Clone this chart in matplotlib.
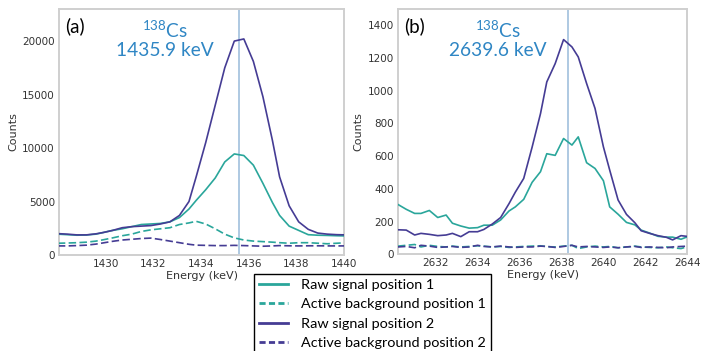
import matplotlib
matplotlib.use("Agg")
import matplotlib.pyplot as plt
from matplotlib.lines import Line2D

plt.rcParams['mathtext.fontset'] = 'custom'
plt.rcParams['mathtext.rm'] = 'Lato'
plt.rcParams['mathtext.it'] = 'Lato'

# ---------------- Panel (a) data ----------------
energy_a = [1428.0, 1428.4, 1428.8, 1429.2, 1429.6, 1429.9, 1430.3, 1430.7, 1431.1, 1431.5,
            1431.9, 1432.3, 1432.7, 1433.1, 1433.5, 1433.8, 1434.2, 1434.6, 1435.0, 1435.4,
            1435.8, 1436.2, 1436.6, 1437.0, 1437.3, 1437.7, 1438.1, 1438.5, 1438.9, 1439.3,
            1439.7, 1440.1]
raw1_a = [1950, 1900, 1850, 1870, 1950, 2100, 2300, 2450, 2650, 2850,
          2900, 2950, 3100, 3500, 4300, 5100, 6100, 7200, 8700, 9450,
          9300, 8400, 6700, 4900, 3700, 2700, 2300, 1900, 1850, 1830,
          1800, 1780]
bg1_a = [1100, 1120, 1150, 1200, 1300, 1420, 1600, 1800, 1950, 2200,
         2350, 2450, 2550, 2850, 3000, 3150, 2900, 2450, 1950, 1600,
         1400, 1300, 1250, 1200, 1150, 1100, 1150, 1150, 1100, 1050,
         1100, 1150]
raw2_a = [2000, 1950, 1880, 1880, 1980, 2100, 2300, 2550, 2650, 2700,
          2750, 2900, 3100, 3700, 5000, 7300, 10500, 14000, 17500, 20000,
          20200, 18100, 14800, 10700, 7300, 4600, 3100, 2400, 2050, 1950,
          1900, 1880]
bg2_a = [850, 850, 880, 920, 1020, 1130, 1280, 1400, 1470, 1540,
         1580, 1450, 1300, 1150, 1000, 920, 900, 880, 880, 900,
         880, 850, 820, 850, 880, 860, 850, 860, 860, 850,
         850, 850]

# ---------------- Panel (b) data ----------------
energy_b = [2630.2, 2630.6, 2631.0, 2631.3, 2631.7, 2632.1, 2632.5, 2632.8, 2633.2, 2633.6,
            2634.0, 2634.3, 2634.7, 2635.1, 2635.5, 2635.8, 2636.2, 2636.6, 2637.0, 2637.3,
            2637.7, 2638.1, 2638.5, 2638.8, 2639.2, 2639.6, 2640.0, 2640.3, 2640.7, 2641.1,
            2641.5, 2641.8, 2642.2, 2642.6, 2643.0, 2643.3, 2643.7, 2644.1]
raw1_b = [305, 275, 250, 250, 268, 225, 240, 190, 173, 160,
          163, 178, 178, 210, 265, 290, 336, 440, 505, 615,
          605, 708, 668, 718, 560, 525, 450, 290, 245, 195,
          180, 148, 130, 110, 105, 105, 92, 112]
bg1_b = [50, 55, 60, 45, 55, 48, 45, 50, 45, 48,
         52, 50, 45, 48, 42, 45, 48, 50, 52, 47,
         45, 50, 55, 35, 45, 50, 45, 48, 40, 45,
         50, 45, 42, 40, 45, 40, 35, 50]
raw2_b = [150, 148, 118, 128, 122, 114, 118, 128, 108, 138,
          138, 152, 185, 225, 310, 380, 464, 655, 860, 1054,
          1166, 1313, 1268, 1207, 1044, 892, 657, 515, 332, 244,
          193, 144, 128, 114, 104, 88, 114, 108]
bg2_b = [45, 48, 40, 55, 50, 42, 45, 48, 42, 45,
         55, 48, 45, 50, 45, 42, 45, 45, 50, 48,
         42, 48, 55, 45, 48, 45, 42, 45, 40, 45,
         48, 42, 45, 42, 40, 45, 48, 50]

peak_a = 1435.6
peak_b = 2638.3
xticks_a = [1430, 1432, 1434, 1436, 1438, 1440]
yticks_a = [0, 5000, 10000, 15000, 20000]
xticks_b = [2632, 2634, 2636, 2638, 2640, 2642, 2644]
yticks_b = [0, 200, 400, 600, 800, 1000, 1200, 1400]
labels = ["Raw signal position 1", "Active background position 1",
          "Raw signal position 2", "Active background position 2"]

TEAL = '#2aa69b'
PURPLE = '#453c94'
LINE_BLUE = '#a8c5df'
TEXT_BLUE = '#2f86c4'
SPINE = '#cfcfcf'

fig = plt.figure(figsize=(7.13, 3.51), dpi=100)
W, H = 713, 351
ax_a = fig.add_axes([59 / W, 1 - 255 / H, (344 - 59) / W, (255 - 9) / H])
ax_b = fig.add_axes([398.3 / W, 1 - 254.3 / H, (687.3 - 398.3) / W, (254.3 - 9) / H])


def draw(ax, e, r1, b1, r2, b2, peak, xlim, ylim, xt, yt, tag, energy_txt, txt_x):
    ax.axvline(peak, color=LINE_BLUE, lw=1.3, zorder=1)
    ax.plot(e, r1, color=TEAL, lw=1.2, zorder=3)
    ax.plot(e, b1, color=TEAL, lw=1.2, ls=(0, (4.5, 2)), zorder=3)
    ax.plot(e, r2, color=PURPLE, lw=1.2, zorder=3)
    ax.plot(e, b2, color=PURPLE, lw=1.2, ls=(0, (4.5, 2)), zorder=3)
    ax.set_xlim(*xlim)
    ax.set_ylim(*ylim)
    ax.set_xticks(xt)
    ax.set_yticks(yt)
    ax.tick_params(length=0, pad=3, labelsize=7.5, labelcolor='#333333')
    for s in ax.spines.values():
        s.set_color(SPINE)
        s.set_linewidth(1.4)
    ax.set_xlabel("Energy (keV)", fontsize=8, color='#333333', labelpad=1)
    ax.set_ylabel("Counts", fontsize=8, color='#333333', labelpad=3)
    ax.text(0.02, 0.965, tag, transform=ax.transAxes, fontsize=13.5,
            family='Lato', va='top', ha='left', color='black')
    ax.text(txt_x, 0.955, r'$^{138}$Cs' + '\n' + energy_txt, transform=ax.transAxes,
            fontsize=13.8, family='Lato', va='top', ha='center', color=TEXT_BLUE,
            linespacing=1.05)


draw(ax_a, energy_a, raw1_a, bg1_a, raw2_a, bg2_a, peak_a, (1428.05, 1440), (0, 23000),
     xticks_a, yticks_a, "(a)", "1435.9 keV", 0.372)
draw(ax_b, energy_b, raw1_b, bg1_b, raw2_b, bg2_b, peak_b, (2630.22, 2644), (0, 1500),
     xticks_b, yticks_b, "(b)", "2639.6 keV", 0.345)

handles = [Line2D([], [], color=TEAL, lw=2),
           Line2D([], [], color=TEAL, lw=2, ls=(0, (2.2, 1.2))),
           Line2D([], [], color=PURPLE, lw=2),
           Line2D([], [], color=PURPLE, lw=2, ls=(0, (2.2, 1.2)))]
leg = fig.legend(handles, labels, loc='upper left', bbox_to_anchor=(254 / W, 1 - 274 / H),
                 bbox_transform=fig.transFigure, borderaxespad=0, fancybox=False,
                 frameon=True, edgecolor='black', framealpha=1,
                 prop={'family': 'Lato', 'size': 10.4}, handlelength=2.0,
                 handletextpad=0.9, labelspacing=0.5, borderpad=0.35)
leg.get_frame().set_linewidth(1.0)

fig.savefig("out.png", dpi=100)
